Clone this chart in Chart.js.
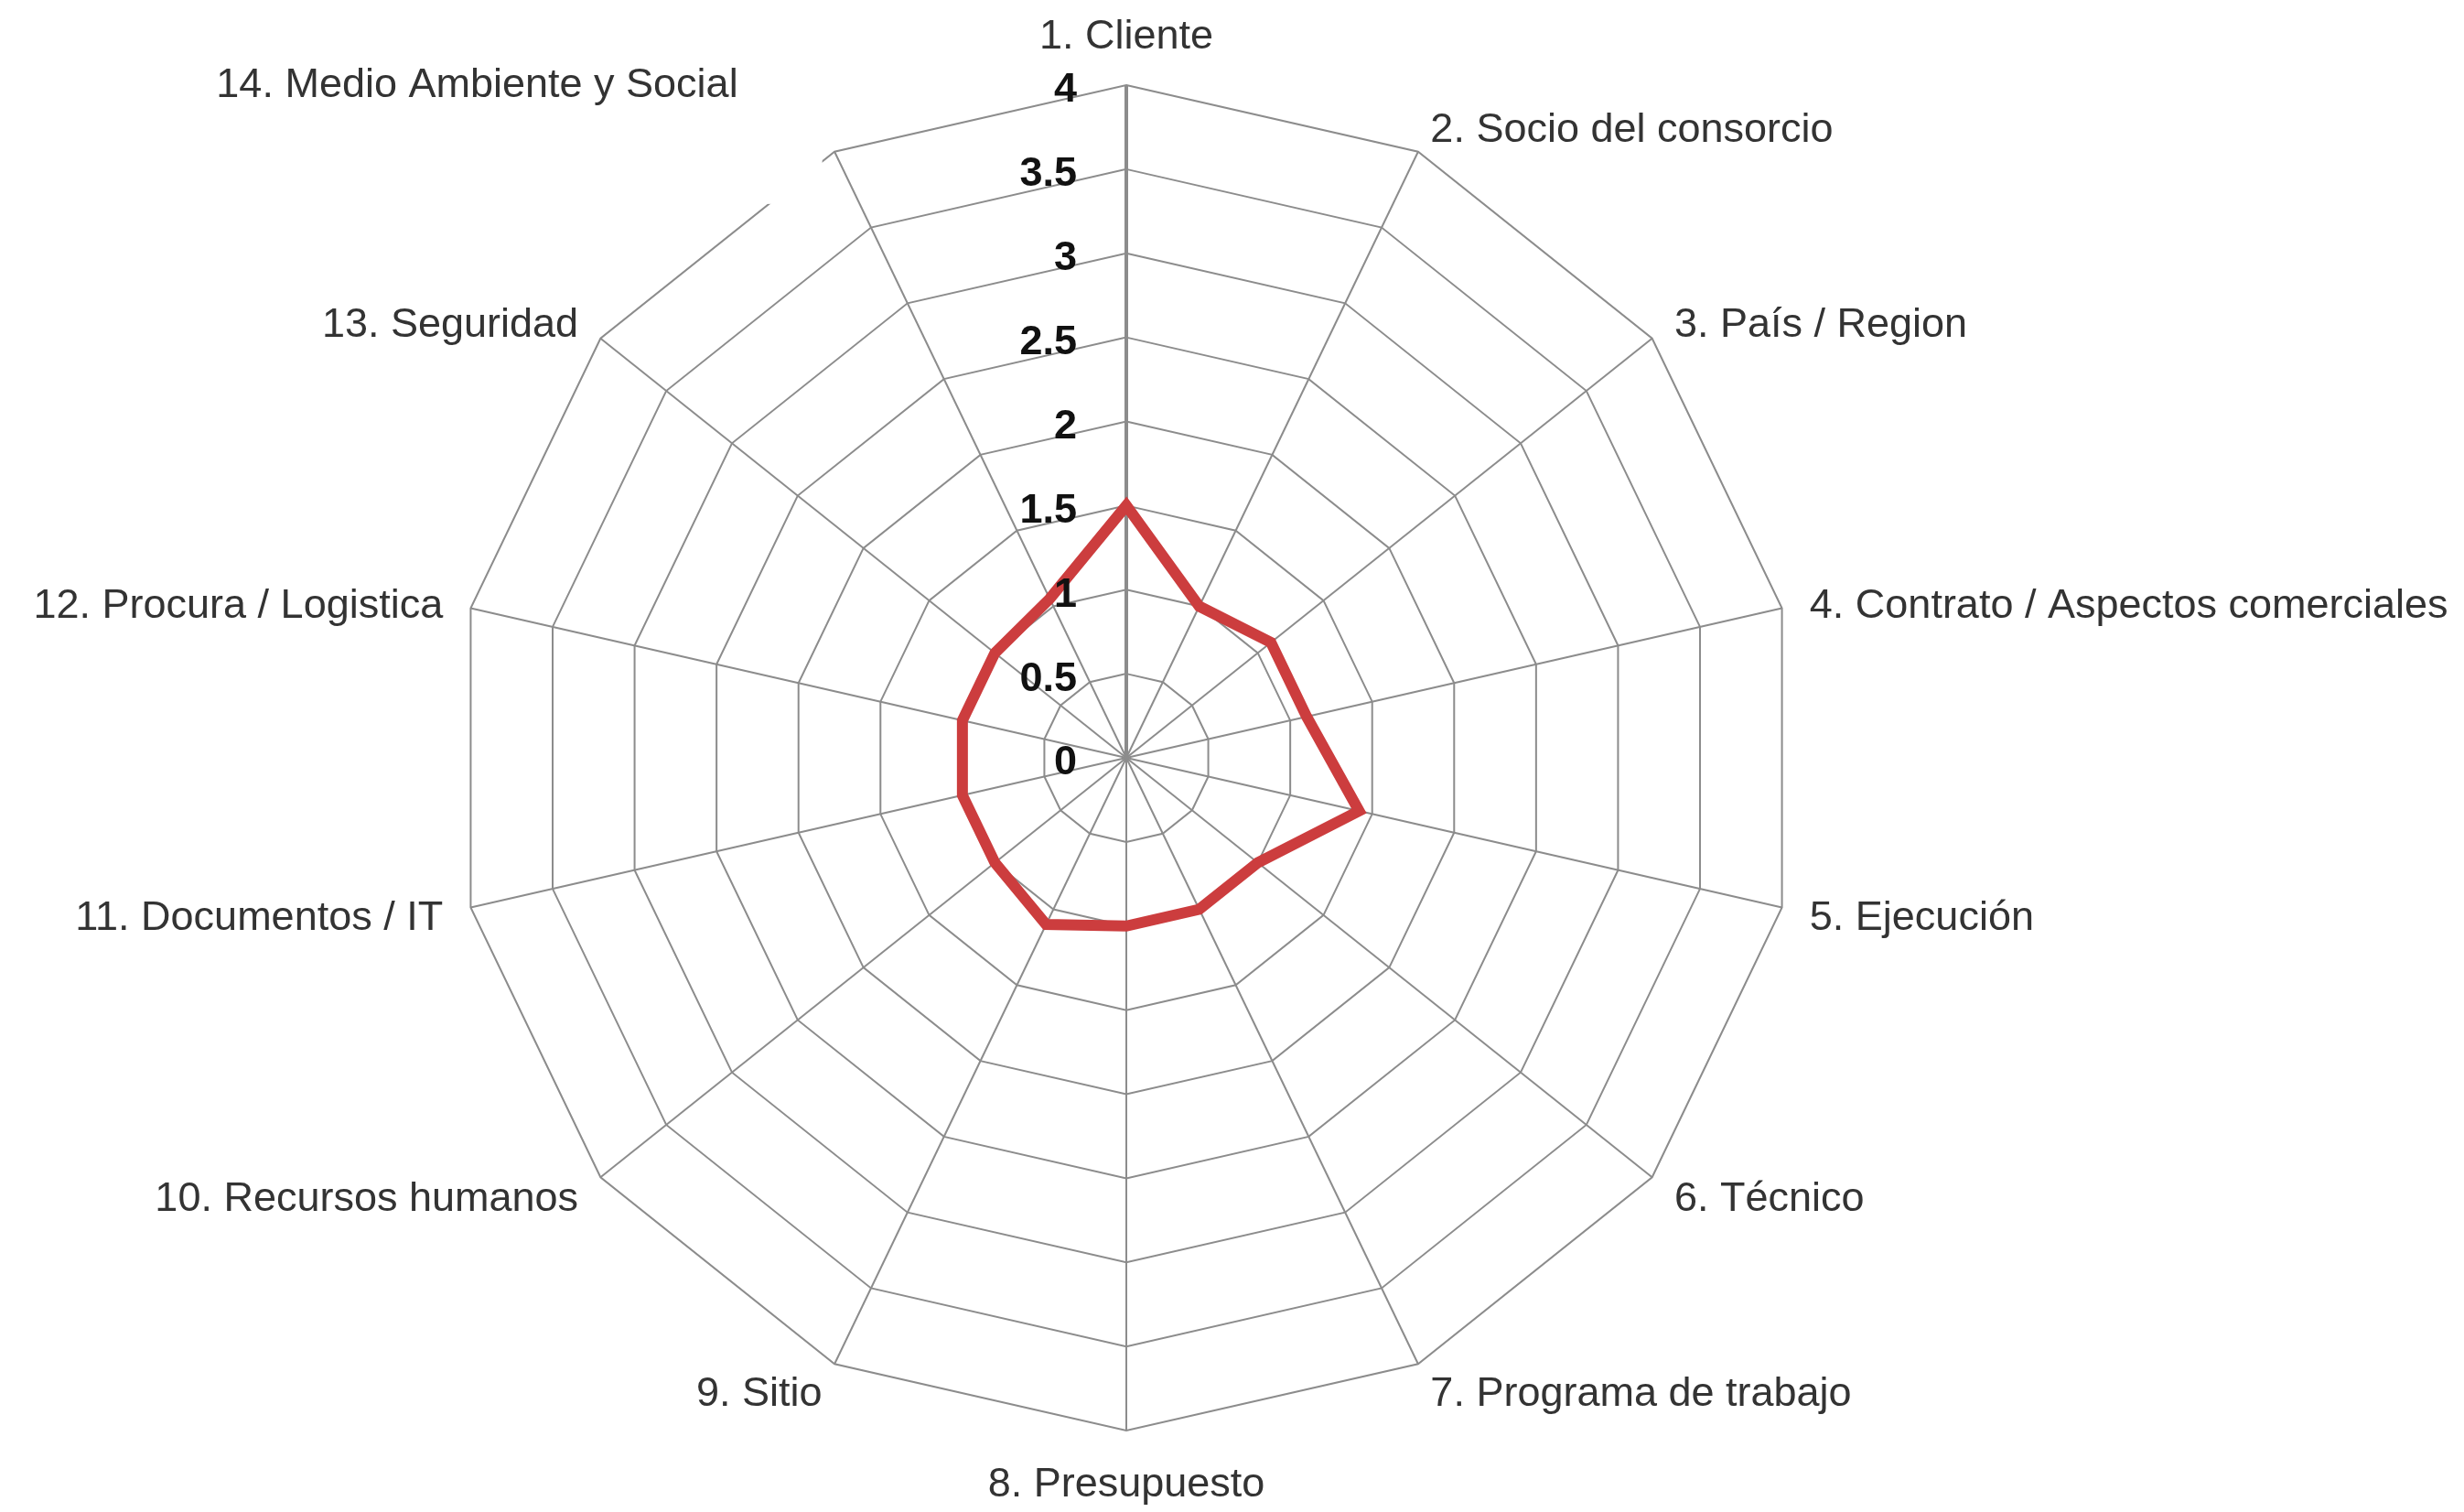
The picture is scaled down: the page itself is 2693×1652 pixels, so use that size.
<!DOCTYPE html>
<html lang="es">

<head>
  <meta charset="UTF-8" />
  <title>Riesgos</title>
  <script src="https://cdn.jsdelivr.net/npm/chart.js"></script>
  <style>
    html, body { margin: 0; padding: 0; background: #fff; }
    #wrap { position: relative; width: 2693px; height: 1652px; }
  </style>
</head>

<body>
  <div id="wrap">
    <canvas id="riskChart"></canvas>
  </div>

  <script>
    const categories = [
      '1. Cliente',
      '2. Socio del consorcio',
      '3. País / Region',
      '4. Contrato / Aspectos comerciales',
      '5. Ejecución',
      '6. Técnico',
      '7. Programa de trabajo',
      '8. Presupuesto',
      '9. Sitio',
      '10. Recursos humanos',
      '11. Documentos / IT',
      '12. Procura / Logistica',
      '13. Seguridad',
      '14. Medio Ambiente y Social'
    ];
    const riskValues = [1.5, 1.0, 1.1, 1.1, 1.42, 1.0, 1.0, 1.0, 1.1, 1.0, 1.0, 1.0, 1.0, 1.05];
    const scaleMin = 0;
    const scaleMax = 4;
    const scaleStep = 0.5;

    const FONT = '"Liberation Sans", Arial, Helvetica, sans-serif';
    const gridGray = 'rgb(140,140,140)';

    // labels drawn by hand so they sit where the original puts them
    const labelsPlugin = {
      id: 'labelsPlugin',
      afterDatasetsDraw(chart) {
        const scale = chart.scales.r;
        const ctx = chart.ctx;
        const n = categories.length;
        ctx.save();

        // the original has a white box left over behind label 14
        const p14 = scale.getPointPosition(n - 1, scale.drawingArea + 31);
        ctx.fillStyle = '#fff';
        ctx.fillRect(p14.x - 300, p14.y - 85, 300, 170);

        ctx.font = '45px ' + FONT;
        ctx.fillStyle = '#333';
        ctx.textBaseline = 'middle';
        for (let i = 0; i < n; i++) {
          const p = scale.getPointPosition(i, scale.drawingArea + 31);
          const deg = Math.round(i * 360 / n * 100) / 100;
          let x = p.x, y = p.y + 5;
          if (deg === 0) { ctx.textAlign = 'center'; y -= 26; }
          else if (deg === 180) { ctx.textAlign = 'center'; y += 24; }
          else if (deg < 180) { ctx.textAlign = 'left'; }
          else { ctx.textAlign = 'right'; }
          if (i === n - 1) { x -= 92; y -= 49; }
          ctx.fillText(categories[i], x, y);
        }

        ctx.font = 'bold 45px ' + FONT;
        ctx.fillStyle = '#111';
        ctx.textAlign = 'right';
        scale.ticks.forEach(t => {
          const d = scale.getDistanceFromCenterForValue(t.value);
          ctx.fillText(t.label, scale.xCenter - 54, scale.yCenter - d + 6);
        });
        ctx.restore();
      }
    };

    new Chart(document.getElementById('riskChart'), {
      type: 'radar',
      data: {
        labels: categories,
        datasets: [{
          label: 'Riesgo',
          data: riskValues,
          borderColor: 'rgb(204,61,62)',
          borderWidth: 12,
          backgroundColor: 'transparent',
          fill: false,
          tension: 0,
          pointRadius: 0,
          pointHoverRadius: 0
        }]
      },
      options: {
        responsive: true,
        maintainAspectRatio: false,
        animation: false,
        layout: { padding: { left: 496, right: 727, top: 93, bottom: 89 } },
        plugins: {
          legend: { display: false },
          tooltip: { enabled: false }
        },
        scales: {
          r: {
            min: scaleMin,
            max: scaleMax,
            ticks: {
              stepSize: scaleStep,
              display: false,
              callback: v => String(Number(v))
            },
            pointLabels: { display: false },
            grid: { color: gridGray, lineWidth: 2 },
            angleLines: {
              color: gridGray,
              lineWidth: c => (c.index === 0 ? 4 : 2)
            }
          }
        }
      },
      plugins: [labelsPlugin]
    });
  </script>
</body>

</html>
